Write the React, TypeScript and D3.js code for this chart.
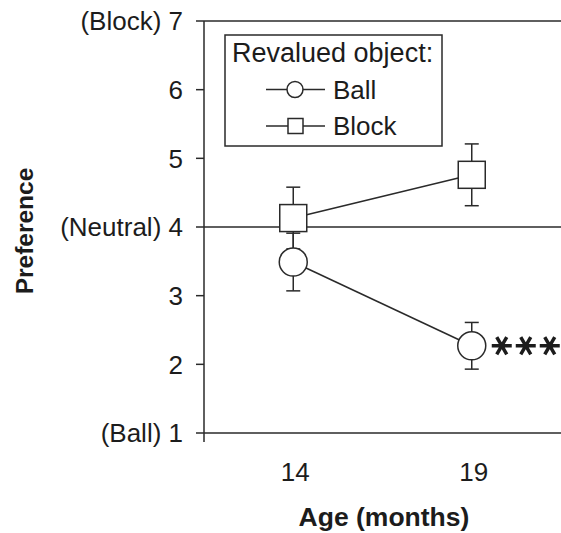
import React, { useEffect, useRef } from "react";
import * as d3 from "d3";

// values
const ages = [14, 19];
const ballMeans = [3.49, 2.27];
const ballErr = [0.42, 0.34];
const blockMeans = [4.13, 4.76];
const blockErr = [0.45, 0.45];
const yTicks = [1, 2, 3, 4, 5, 6, 7];
const yTickLabels = ["(Ball) 1", "2", "3", "(Neutral) 4", "5", "6", "(Block) 7"];
const xTickLabels = ["14", "19"];
const legendItems = ["Ball", "Block"];

const W = 561;
const H = 533;
const FONT = "'Liberation Sans', Arial, Helvetica, sans-serif";
const INK = "#1c1c1c";
const LINE = "#2a2a2a";

const App = () => {
  const svgRef = useRef<SVGSVGElement>(null);

  useEffect(() => {
    const svg = d3.select(svgRef.current);
    svg.selectAll("*").remove();

    const x = d3.scaleLinear().domain([11.5, 21.5]).range([204, 561]);
    const y = d3.scaleLinear().domain([1, 7]).range([433, 21]);

    // y axis line
    svg.append("line")
      .attr("x1", x(11.5)).attr("x2", x(11.5))
      .attr("y1", y(7)).attr("y2", y(1) + 9)
      .attr("stroke", LINE).attr("stroke-width", 1.5);

    // ticks, with full width lines at 1, 4, 7
    yTicks.forEach((t, i) => {
      const full = t === 1 || t === 4 || t === 7;
      svg.append("line")
        .attr("x1", x(11.5) - 8)
        .attr("x2", full ? W : x(11.5))
        .attr("y1", y(t)).attr("y2", y(t))
        .attr("stroke", LINE).attr("stroke-width", 1.5);
      svg.append("text")
        .attr("x", x(11.5) - 21)
        .attr("y", y(t))
        .attr("dy", "0.36em")
        .attr("text-anchor", "end")
        .attr("font-family", FONT)
        .attr("font-size", 26)
        .attr("fill", INK)
        .text(yTickLabels[i]);
    });

    // x tick labels
    ages.forEach((a, i) => {
      svg.append("text")
        .attr("x", x(a) + 2)
        .attr("y", 481)
        .attr("text-anchor", "middle")
        .attr("font-family", FONT)
        .attr("font-size", 26)
        .attr("fill", INK)
        .text(xTickLabels[i]);
    });

    // axis titles
    svg.append("text")
      .attr("x", 384).attr("y", 526)
      .attr("text-anchor", "middle")
      .attr("font-family", FONT).attr("font-weight", "bold")
      .attr("font-size", 26.5).attr("fill", INK)
      .text("Age (months)");
    svg.append("text")
      .attr("transform", "translate(33,231) rotate(-90)")
      .attr("text-anchor", "middle")
      .attr("font-family", FONT).attr("font-weight", "bold")
      .attr("font-size", 24.5).attr("fill", INK)
      .text("Preference");

    const series = [
      { name: "Ball", means: ballMeans, err: ballErr, shape: "circle" },
      { name: "Block", means: blockMeans, err: blockErr, shape: "square" },
    ];

    // error bars
    series.forEach(s => {
      ages.forEach((a, i) => {
        const top = y(s.means[i] + s.err[i]);
        const bot = y(s.means[i] - s.err[i]);
        const g = svg.append("g").attr("stroke", LINE).attr("stroke-width", 1.5);
        g.append("line").attr("x1", x(a)).attr("x2", x(a)).attr("y1", top).attr("y2", bot);
        g.append("line").attr("x1", x(a) - 7).attr("x2", x(a) + 7).attr("y1", top).attr("y2", top);
        g.append("line").attr("x1", x(a) - 7).attr("x2", x(a) + 7).attr("y1", bot).attr("y2", bot);
      });
    });

    // connecting lines
    const line = d3.line<number>().x((_, i) => x(ages[i])).y(d => y(d));
    series.forEach(s => {
      svg.append("path")
        .attr("d", line(s.means))
        .attr("fill", "none")
        .attr("stroke", LINE).attr("stroke-width", 1.5);
    });

    // markers
    const drawMarker = (shape: string, cx: number, cy: number, size: number) => {
      if (shape === "circle") {
        svg.append("circle")
          .attr("cx", cx).attr("cy", cy).attr("r", size / 2)
          .attr("fill", "white").attr("stroke", LINE).attr("stroke-width", 1.5);
      } else {
        svg.append("rect")
          .attr("x", cx - size / 2).attr("y", cy - size / 2)
          .attr("width", size).attr("height", size)
          .attr("fill", "white").attr("stroke", LINE).attr("stroke-width", 1.5);
      }
    };
    series.forEach(s => {
      ages.forEach((a, i) => drawMarker(s.shape, x(a), y(s.means[i]), s.shape === "circle" ? 28 : 27));
    });

    // significance stars next to the 19-month ball point
    const star = (cx: number, cy: number) => {
      const p = d3.path();
      [0, 60, 120].forEach(deg => {
        const r = (deg * Math.PI) / 180;
        p.moveTo(cx - 10 * Math.cos(r), cy - 10 * Math.sin(r));
        p.lineTo(cx + 10 * Math.cos(r), cy + 10 * Math.sin(r));
      });
      return p.toString();
    };
    [0, 1, 2].forEach(k => {
      svg.append("path")
        .attr("d", star(x(19) + 30 + k * 24, y(ballMeans[1])))
        .attr("stroke", INK).attr("stroke-width", 3.5).attr("fill", "none");
    });

    // legend
    const lg = svg.append("g");
    lg.append("rect")
      .attr("x", 225).attr("y", 35).attr("width", 217).attr("height", 111)
      .attr("fill", "white").attr("stroke", LINE).attr("stroke-width", 1.5);
    lg.append("text")
      .attr("x", 232).attr("y", 62)
      .attr("font-family", FONT).attr("font-size", 27).attr("fill", INK)
      .text("Revalued object:");
    legendItems.forEach((name, i) => {
      const cy = 89.5 + i * 36.5;
      lg.append("line")
        .attr("x1", 266).attr("x2", 325).attr("y1", cy).attr("y2", cy)
        .attr("stroke", LINE).attr("stroke-width", 1.5);
      if (series[i].shape === "circle") {
        lg.append("circle").attr("cx", 295).attr("cy", cy).attr("r", 8)
          .attr("fill", "white").attr("stroke", LINE).attr("stroke-width", 1.5);
      } else {
        lg.append("rect").attr("x", 288).attr("y", cy - 7.5).attr("width", 15).attr("height", 15)
          .attr("fill", "white").attr("stroke", LINE).attr("stroke-width", 1.5);
      }
      lg.append("text")
        .attr("x", 333).attr("y", cy).attr("dy", "0.36em")
        .attr("font-family", FONT).attr("font-size", 26).attr("fill", INK)
        .text(name);
    });
  }, []);

  return (
    <svg
      ref={svgRef}
      width={W}
      height={H}
      viewBox={`0 0 ${W} ${H}`}
      style={{ position: "absolute", left: 0, top: 0, background: "white" }}
    />
  );
};

export default App;
